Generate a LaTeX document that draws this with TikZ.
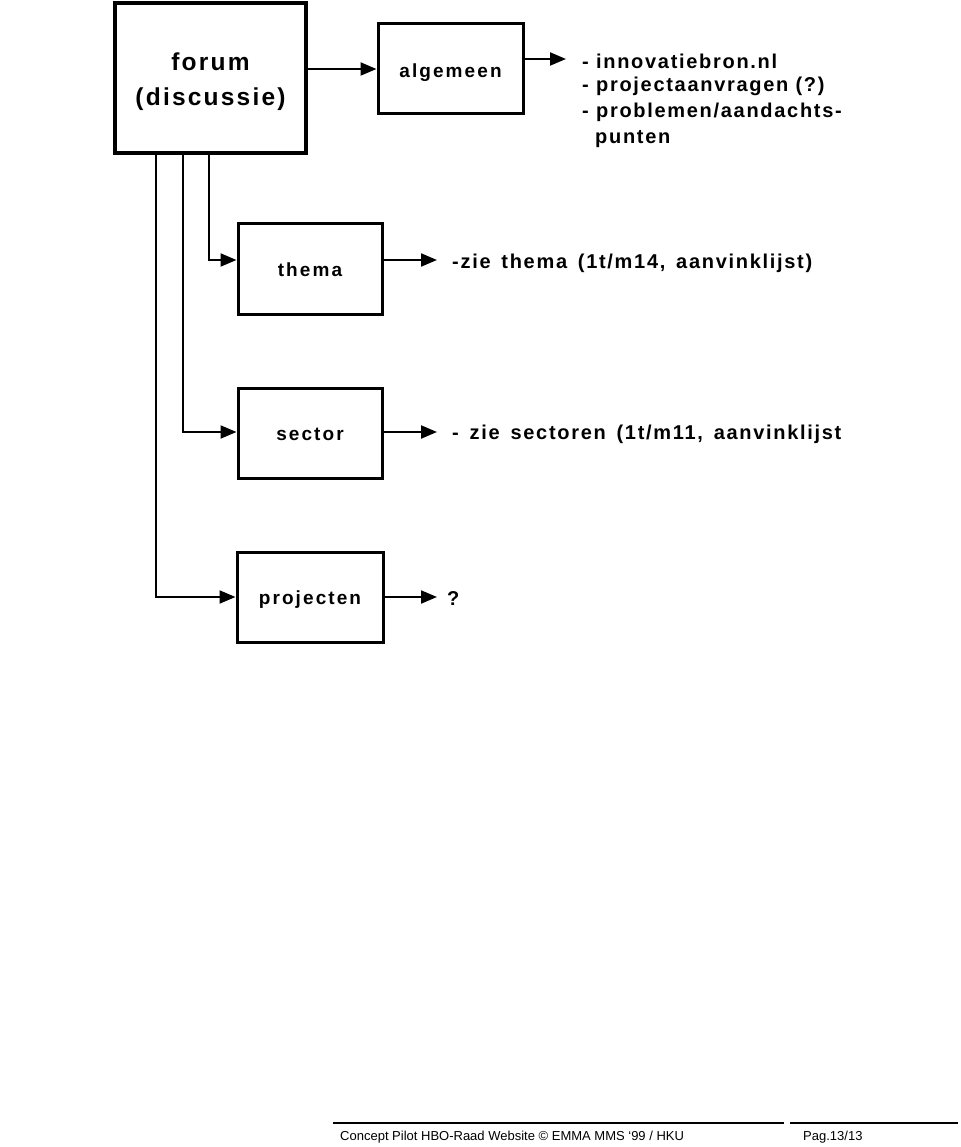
\documentclass[tikz,border=0pt]{standalone}
\usepackage{fontspec}
\setmainfont{Liberation Sans}
\newfontfamily\wideA[LetterSpace=9]{Liberation Sans}
\newfontfamily\wideB[LetterSpace=11]{Liberation Sans}
\newfontfamily\wideC[LetterSpace=8.5]{Liberation Sans}
\newcommand\lowerby[2]{\raisebox{-#1}[\height][\depth]{#2}}
\usetikzlibrary{arrows.meta}
\begin{document}
\begin{tikzpicture}[x=1pt,y=-1pt,
  box/.style={draw,line width=3pt,rectangle,minimum width=144pt,minimum height=90pt,inner sep=0pt,font=\wideB\bfseries\fontsize{19}{22}\selectfont},
  bigbox/.style={draw,line width=4.5pt,rectangle,minimum width=191pt,minimum height=150pt,inner sep=0pt,align=center,font=\wideA\bfseries\fontsize{24.5}{35}\selectfont},
  lbl/.style={anchor=west,inner sep=0pt,font=\wideC\bfseries\fontsize{20}{22}\selectfont},
  foot/.style={anchor=west,inner sep=0pt,font=\fontsize{13}{15}\selectfont},
  arr/.style={line width=2pt,-{Triangle[length=16pt,width=13pt]}}]
\fill[white] (0,0) rectangle (960,1147);
\useasboundingbox (0,0) rectangle (960,1147);
% boxes
\node[bigbox] (forum) at (210.5,78) {\lowerby{3pt}{\begin{tabular}{@{}c@{}}forum\\(discussie)\end{tabular}}};
\node[box,minimum width=145pt] (alg) at (450.5,69) {\lowerby{4pt}{algemeen}};
\node[box] (thema) at (310,269) {\lowerby{1pt}{thema}};
\node[box] (sector) at (310,433) {\lowerby{1pt}{sector}};
\node[box,minimum width=146pt] (proj) at (310,597) {\lowerby{3pt}{projecten}};
% text lists
\node[lbl] (l1) at (582,61) {- innovatiebron.nl};
\node[lbl] (l2) at (582,86) {- projectaanvragen (?)};
\node[lbl] (l3) at (582,112) {- problemen/aandachts-};
\node[lbl] (l4) at (595,139) {punten};
\node[lbl] (t1) at (452,263) {\spaceskip=10.8pt plus 1pt -zie thema (1t/m14, aanvinklijst)};
\node[lbl] (t2) at (452,434) {\spaceskip=10.8pt plus 1pt - zie sectoren (1t/m11, aanvinklijst};
\node[lbl] (t3) at (447,599) {?};
% arrow ends
\coordinate (e0) at (566,59);
\coordinate (e1) at (437,260);
\coordinate (e2) at (437,432);
\coordinate (e3) at (437,597);
% connectors
\draw[arr] (forum.east |- alg.west) -- (alg.west);
\draw[arr] ([yshift=10pt]alg.east) -- (e0);
\draw[arr] ([xshift=-1.5pt]forum.south) |- ([yshift=9pt]thema.west);
\draw[arr] ([xshift=-27.5pt]forum.south) |- ([yshift=1pt]sector.west);
\draw[arr] ([xshift=-54.5pt]forum.south) |- (proj.west);
\draw[arr] ([yshift=9pt]thema.east) -- (e1);
\draw[arr] ([yshift=1pt]sector.east) -- (e2);
\draw[arr] (proj.east) -- (e3);
% footer
\draw[line width=1.5pt] (333,1123) -- (784,1123);
\draw[line width=1.5pt] (790,1123) -- (958,1123);
\node[foot] (f1) at (340,1137) {Concept Pilot HBO-Raad Website © EMMA MMS ‘99 / HKU};
\node[foot] (f2) at (803,1137) {Pag.13/13};
\end{tikzpicture}
\end{document}
